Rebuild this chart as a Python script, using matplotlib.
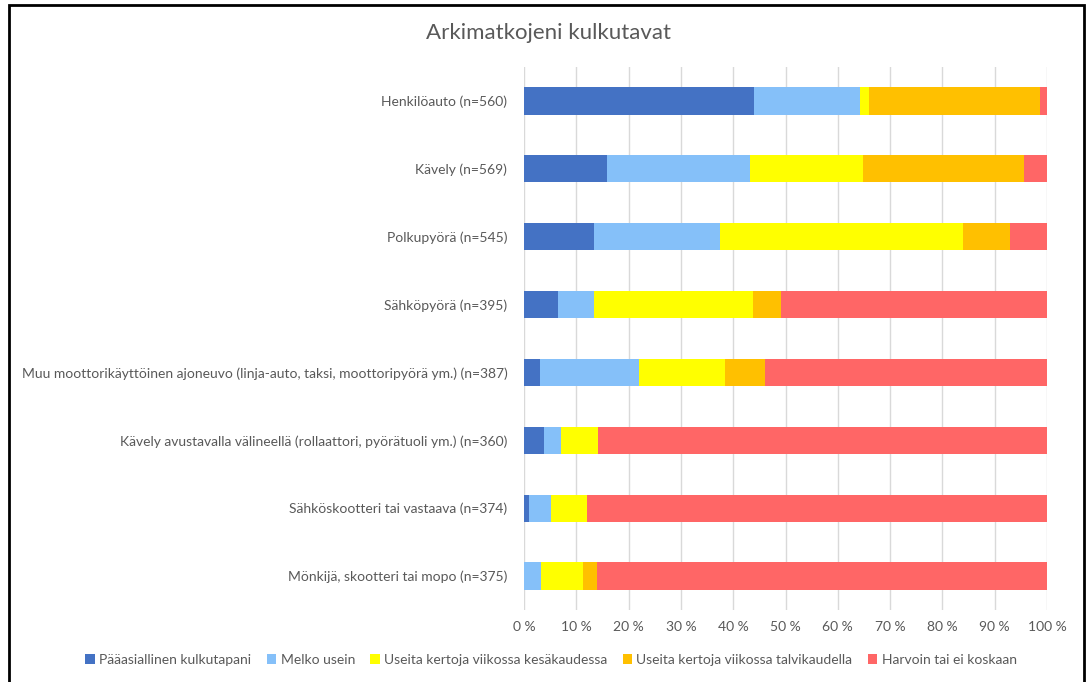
import matplotlib
matplotlib.use("Agg")
import matplotlib.pyplot as plt
from matplotlib.patches import Rectangle
from matplotlib.ticker import FuncFormatter
import numpy as np

plt.rcParams['font.family'] = ['Lato', 'DejaVu Sans']

title = "Arkimatkojeni kulkutavat"

categories = [
    "Henkilöauto (n=560)",
    "Kävely (n=569)",
    "Polkupyörä (n=545)",
    "Sähköpyörä (n=395)",
    "Muu moottorikäyttöinen ajoneuvo (linja-auto, taksi, moottoripyörä ym.) (n=387)",
    "Kävely avustavalla välineellä (rollaattori, pyörätuoli ym.) (n=360)",
    "Sähköskootteri tai vastaava (n=374)",
    "Mönkijä, skootteri tai mopo (n=375)",
]

series_names = [
    "Pääasiallinen kulkutapani",
    "Melko usein",
    "Useita kertoja viikossa kesäkaudessa",
    "Useita kertoja viikossa talvikaudella",
    "Harvoin tai ei koskaan",
]

# shares in percent, one list per answer option, in category order
paaasiallinen = [43.9, 15.9, 13.3, 6.5, 3.0, 3.8, 0.9, 0.0]
melko_usein = [20.3, 27.4, 24.2, 6.8, 19.0, 3.3, 4.2, 3.2]
kesakausi = [1.7, 21.6, 46.4, 30.5, 16.5, 7.1, 7.0, 8.0]
talvikausi = [32.7, 30.7, 9.0, 5.3, 7.6, 0.0, 0.0, 2.7]
harvoin = [1.4, 4.4, 7.1, 50.9, 53.9, 85.8, 87.9, 86.1]

series_values = [paaasiallinen, melko_usein, kesakausi, talvikausi, harvoin]
colors = ["#4472C4", "#85C0F9", "#FFFF00", "#FFC000", "#FF6666"]

x_ticks = [0, 10, 20, 30, 40, 50, 60, 70, 80, 90, 100]

W, H = 1091, 682
fig = plt.figure(figsize=(W / 100, H / 100), dpi=100)

# plot area in pixel coordinates
left, right, top, bottom = 524, 1047, 67, 610
ax = fig.add_axes([left / W, 1 - bottom / H, (right - left) / W, (bottom - top) / H])

y = np.arange(len(categories))
start = np.zeros(len(categories))
for name, vals, col in zip(series_names, series_values, colors):
    vals = np.array(vals, dtype=float)
    ax.barh(y, vals, left=start, height=0.4, color=col, label=name,
            edgecolor="none", zorder=3)
    start += vals

ax.set_ylim(len(categories) - 0.5, -0.5)
ax.set_xlim(0, 100)
ax.set_yticks(y)
ax.set_yticklabels(categories, fontsize=10, color="#595959")
ax.set_xticks(x_ticks)
ax.xaxis.set_major_formatter(FuncFormatter(lambda v, p: f"{int(v)} %"))
ax.tick_params(axis="x", labelsize=10, labelcolor="#595959", length=0, pad=8)
ax.tick_params(axis="y", length=0, pad=12)
ax.grid(axis="x", color="#D9D9D9", linewidth=1, zorder=0)
for s in ax.spines.values():
    s.set_visible(False)

fig.text(548 / W, 1 - 33 / H, title, ha="center", va="center",
         fontsize=16, color="#595959", family=["Lato", "DejaVu Sans"])

handles, labels = ax.get_legend_handles_labels()
leg = fig.legend(handles, labels, loc="center", ncol=5,
                 bbox_to_anchor=(551 / W, 1 - 660 / H), frameon=False,
                 fontsize=10, handlelength=0.7, handleheight=0.7,
                 handletextpad=0.3, columnspacing=1.1)
for t in leg.get_texts():
    t.set_color("#595959")

# outer chart frame
fig.patches.append(Rectangle((9 / W, -0.05), (1084 - 9) / W, 1.05 - 5 / H,
                             transform=fig.transFigure, fill=False,
                             edgecolor="black", linewidth=2))

fig.savefig("out.png", dpi=100)
